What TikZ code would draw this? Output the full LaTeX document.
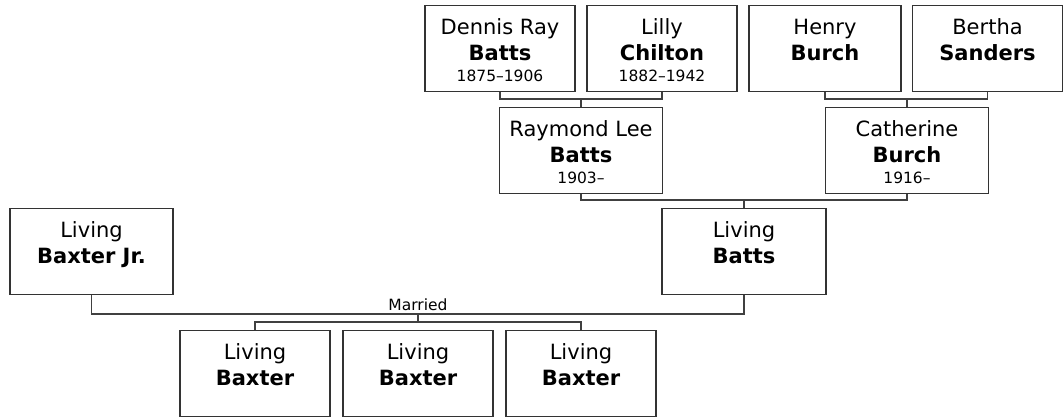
\documentclass[tikz,border=0pt]{standalone}
\usepackage{fontspec}
\setmainfont{DejaVu Sans}
\usetikzlibrary{positioning,calc}

% one person box: name, top centre, width, given name, surname, years
\newcommand{\person}[6]{%
  \node[person, minimum width=#3] (#1) at #2 {};
  \node[given] (#1-given) at ($(#1.north)+(0,29)$) {#4};
  \node[surname] (#1-surname) at ($(#1.north)+(0,55)$) {#5};
  \if\relax\detokenize{#6}\relax\else
    \node[years] (#1-years) at ($(#1.north)+(0,76)$) {#6};
  \fi
}

\begin{document}
\begin{tikzpicture}[
    x=1pt, y=-1pt,
    person/.style={draw, black!80, line width=1.2pt, fill=white, anchor=north,
                   minimum height=86pt, inner sep=0pt, text=black},
    given/.style={anchor=base, inner sep=0pt, font=\fontsize{21}{24}\selectfont},
    surname/.style={anchor=base, inner sep=0pt, font=\fontsize{21}{24}\selectfont\bfseries},
    years/.style={anchor=base, inner sep=0pt, font=\fontsize{15.5}{18}\selectfont},
    tag/.style={anchor=base, inner sep=0pt, font=\fontsize{15.5}{18}\selectfont},
    link/.style={draw, black!75, line width=1.2pt},
  ]
  \useasboundingbox (0,0) rectangle (1063,416);

  % ============================== Grandparents ============================
  \person{dennis}{(500,5)}{150pt}{Dennis Ray}{Batts}{1875--1906}
  \person{lilly}{(662,5)}{150pt}{Lilly}{Chilton}{1882--1942}
  \person{henry}{(825,5)}{152pt}{Henry}{Burch}{}
  \person{bertha}{(987.5,5)}{150pt}{Bertha}{Sanders}{}

  % ============================== Parents =================================
  \person{raymond}{(581,107)}{163pt}{Raymond Lee}{Batts}{1903--}
  \person{catherine}{(907,107)}{163pt}{Catherine}{Burch}{1916--}

  \coordinate (c1) at ($(raymond.north)+(0,-8)$);
  \coordinate (c2) at ($(catherine.north)+(0,-8)$);
  \draw[link] (dennis.south) |- (c1) -| (lilly.south);
  \draw[link] (c1) -- (raymond.north);
  \draw[link] (henry.south) |- (c2) -| (bertha.south);
  \draw[link] (c2) -- (catherine.north);

  % ============================== Couple ==================================
  \person{junior}{(91.5,208)}{163pt}{Living}{Baxter Jr.}{}
  \person{batts}{(744,208)}{164pt}{Living}{Batts}{}

  \coordinate (c3) at ($(batts.north)+(0,-8)$);
  \draw[link] (raymond.south) |- (c3) -| (catherine.south);
  \draw[link] (c3) -- (batts.north);

  % ============================== Children ================================
  \person{kid1}{(255,330)}{150pt}{Living}{Baxter}{}
  \person{kid2}{(418,330)}{150pt}{Living}{Baxter}{}
  \person{kid3}{(581,330)}{150pt}{Living}{Baxter}{}

  \coordinate (wed) at ($(kid2.north)+(0,-16)$);
  \coordinate (c4) at ($(kid2.north)+(0,-8)$);
  \draw[link] (junior.south) |- (wed) -| (batts.south);
  \draw[link] (wed) -- (c4);
  \draw[link] (kid1.north) |- (c4) -| (kid3.north);
  \node[tag] (married) at ($(wed)+(0,-4)$) {Married};
\end{tikzpicture}
\end{document}
